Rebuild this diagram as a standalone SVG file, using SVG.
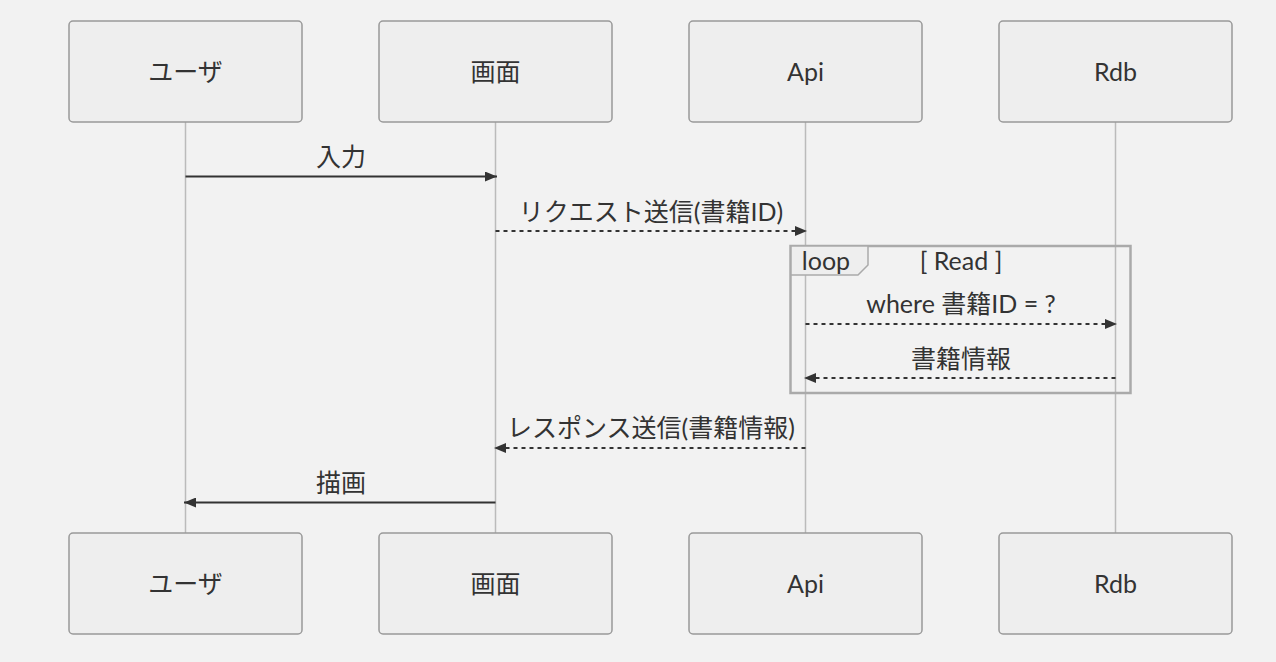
<svg xmlns="http://www.w3.org/2000/svg" width="1276" height="662" viewBox="0 0 1276 662">
<defs>
<style>
.bg{fill:#f2f2f2}
.actor{fill:#eeeeee;stroke:#999999;stroke-width:1.5}
.t{font-family:"Lato","Noto Sans CJK JP",sans-serif;font-size:25px;fill:#333333;text-anchor:middle;dominant-baseline:central}
.life{stroke:#bbbbbb;stroke-width:1.5}
.msg{stroke:#333333;stroke-width:2;fill:none}
.dash{stroke-dasharray:4 4}
.loop{fill:none;stroke:#aaaaaa;stroke-width:2.5}
.lbl{fill:#eeeeee;stroke:#aaaaaa;stroke-width:1.5}
</style>
<marker id="ah" viewBox="0 0 12 10" refX="12" refY="5" markerWidth="12" markerHeight="10" markerUnits="userSpaceOnUse" orient="auto">
<path d="M0,0 L12,5 L0,10 Z" fill="#333333"/>
</marker>
</defs>
<rect class="bg" x="0" y="0" width="1276" height="662"/>
<g id="lifelines">
<line class="life" x1="185.5" y1="122" x2="185.5" y2="533"/>
<line class="life" x1="495.5" y1="122" x2="495.5" y2="533"/>
<line class="life" x1="805.5" y1="122" x2="805.5" y2="533"/>
<line class="life" x1="1115.5" y1="122" x2="1115.5" y2="533"/>
</g>
<g id="actor-user"><rect class="actor" x="69" y="21" width="233" height="101" rx="4"/><text class="t" x="185.5" y="71">ユーザ</text></g>
<g id="actor-screen"><rect class="actor" x="379" y="21" width="233" height="101" rx="4"/><text class="t" x="495.5" y="71">画面</text></g>
<g id="actor-api"><rect class="actor" x="689" y="21" width="233" height="101" rx="4"/><text class="t" x="805.5" y="71">Api</text></g>
<g id="actor-rdb"><rect class="actor" x="999" y="21" width="233" height="101" rx="4"/><text class="t" x="1115.5" y="71">Rdb</text></g>
<g id="actor-user-bottom"><rect class="actor" x="69" y="533" width="233" height="101" rx="4"/><text class="t" x="185.5" y="583">ユーザ</text></g>
<g id="actor-screen-bottom"><rect class="actor" x="379" y="533" width="233" height="101" rx="4"/><text class="t" x="495.5" y="583">画面</text></g>
<g id="actor-api-bottom"><rect class="actor" x="689" y="533" width="233" height="101" rx="4"/><text class="t" x="805.5" y="583">Api</text></g>
<g id="actor-rdb-bottom"><rect class="actor" x="999" y="533" width="233" height="101" rx="4"/><text class="t" x="1115.5" y="583">Rdb</text></g>
<g id="loop">
<rect class="loop" x="790.5" y="246" width="340" height="147"/>
<path class="lbl" d="M791,246 L868,246 L868,265 L858,275 L791,275 Z"/>
<text class="t" x="826" y="260">loop</text>
<text class="t" x="961" y="260">[ Read ]</text>
</g>
<g id="connectors">
<line class="msg" x1="185.5" y1="176.5" x2="497" y2="176.5" marker-end="url(#ah)"/>
<text class="t" x="341" y="156">入力</text>
<line class="msg dash" x1="495.5" y1="231" x2="807" y2="231" marker-end="url(#ah)"/>
<text class="t" x="651" y="211">リクエスト送信(書籍ID)</text>
<line class="msg dash" x1="805.5" y1="324" x2="1117" y2="324" marker-end="url(#ah)"/>
<text class="t" x="961" y="303">where 書籍ID = ?</text>
<line class="msg dash" x1="1115.5" y1="378" x2="804" y2="378" marker-end="url(#ah)"/>
<text class="t" x="961" y="358">書籍情報</text>
<line class="msg dash" x1="805.5" y1="448" x2="494" y2="448" marker-end="url(#ah)"/>
<text class="t" x="651" y="427">レスポンス送信(書籍情報)</text>
<line class="msg" x1="495.5" y1="502.5" x2="184" y2="502.5" marker-end="url(#ah)"/>
<text class="t" x="341" y="482">描画</text>
</g>
</svg>
